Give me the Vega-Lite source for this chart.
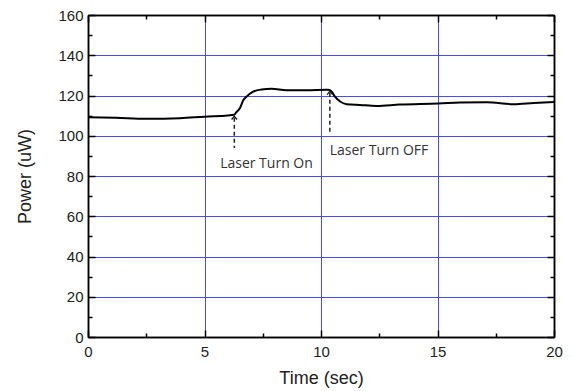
{
  "$schema": "https://vega.github.io/schema/vega-lite/v6.json",
  "width": 466,
  "height": 322,
  "autosize": {"type": "none"},
  "padding": {"left": 88, "top": 15, "right": 19, "bottom": 54},
  "background": "white",
  "config": {
    "view": {"stroke": null},
    "font": "Liberation Sans",
    "axis": {
      "domainColor": "black", "domainWidth": 1.5, "tickColor": "black", "tickWidth": 1.5,
      "labelFont": "Liberation Sans", "labelFontSize": 15, "labelColor": "#222", "labelFlush": false,
      "titleFont": "Liberation Sans", "titleFontSize": 18, "titleFontWeight": "normal", "titleColor": "#222",
      "gridColor": "#4a4aff", "gridWidth": 1
    }
  },
  "datasets": {
    "power": [
      {"t": 0, "p": 109.2}, {"t": 1.2, "p": 108.9}, {"t": 2.5, "p": 108.4}, {"t": 3.95, "p": 108.7},
      {"t": 5.0, "p": 109.5}, {"t": 6.0, "p": 110.1}, {"t": 6.27, "p": 110.4}, {"t": 6.38, "p": 111.9},
      {"t": 6.52, "p": 113.7}, {"t": 6.67, "p": 117.8}, {"t": 6.8, "p": 119.4}, {"t": 7.09, "p": 121.9},
      {"t": 7.45, "p": 123.0}, {"t": 7.88, "p": 123.4}, {"t": 8.52, "p": 122.6}, {"t": 9.38, "p": 122.6},
      {"t": 10.24, "p": 122.8}, {"t": 10.31, "p": 122.8}, {"t": 10.46, "p": 121.9}, {"t": 10.6, "p": 119.4},
      {"t": 10.82, "p": 117.0}, {"t": 11.1, "p": 115.7}, {"t": 11.67, "p": 115.3}, {"t": 12.38, "p": 114.8},
      {"t": 13.38, "p": 115.5}, {"t": 15.03, "p": 116.0}, {"t": 15.97, "p": 116.5}, {"t": 17.12, "p": 116.7},
      {"t": 18.27, "p": 115.7}, {"t": 19.13, "p": 116.3}, {"t": 20, "p": 116.8}
    ],
    "arrows": [
      {"t": 6.28, "top": 109.0, "bottom": 93.9},
      {"t": 10.38, "top": 121.4, "bottom": 101.3}
    ],
    "labels": [
      {"t": 7.66, "y": 86.0, "label": "Laser Turn On"},
      {"t": 12.49, "y": 92.5, "label": "Laser Turn OFF"}
    ]
  },
  "resolve": {"axis": {"x": "independent", "y": "independent"}},
  "layer": [
    {
      "data": {"name": "power"},
      "mark": {"type": "line", "color": "black", "strokeWidth": 2, "interpolate": "monotone"},
      "encoding": {
        "x": {"field": "t", "type": "quantitative", "scale": {"domain": [0, 20], "nice": false},
          "axis": {"orient": "bottom", "values": [0, 5, 10, 15, 20], "title": "Time (sec)", "tickSize": -7, "labelPadding": 14, "titlePadding": 10, "grid": true}},
        "y": {"field": "p", "type": "quantitative", "scale": {"domain": [0, 160], "nice": false},
          "axis": {"orient": "left", "values": [0, 20, 40, 60, 80, 100, 120, 140, 160], "title": "Power (uW)", "tickSize": -7, "labelPadding": 12, "titlePadding": 23, "grid": true}}
      }
    },
    {
      "data": {"name": "arrows"},
      "mark": {"type": "rule", "color": "#222", "strokeWidth": 1.5, "strokeDash": [4, 3]},
      "encoding": {
        "x": {"field": "t", "type": "quantitative", "axis": {"orient": "top", "values": [0, 5, 10, 15, 20], "labels": false, "title": null, "tickSize": -7, "grid": false}},
        "y": {"field": "top", "type": "quantitative", "axis": {"orient": "right", "values": [0, 20, 40, 60, 80, 100, 120, 140, 160], "labels": false, "title": null, "tickSize": -7, "grid": false}},
        "y2": {"field": "bottom"}
      }
    },
    {
      "data": {"name": "arrows"},
      "mark": {"type": "point", "shape": "M-1,0.7L0,-0.5L1,0.7", "filled": false, "stroke": "#222", "strokeWidth": 1.4, "size": 30, "opacity": 1},
      "encoding": {
        "x": {"field": "t", "type": "quantitative", "axis": {"orient": "bottom", "values": [2.5, 7.5, 12.5, 17.5], "labels": false, "title": null, "tickSize": -4, "grid": false}},
        "y": {"field": "top", "type": "quantitative", "axis": {"orient": "left", "values": [10, 30, 50, 70, 90, 110, 130, 150], "labels": false, "title": null, "tickSize": -4, "grid": false}}
      }
    },
    {
      "data": {"name": "labels"},
      "mark": {"type": "text", "font": "Open Sans", "fontSize": 14, "color": "#333", "baseline": "middle", "align": "center"},
      "encoding": {
        "x": {"field": "t", "type": "quantitative", "axis": {"orient": "top", "values": [2.5, 7.5, 12.5, 17.5], "labels": false, "title": null, "tickSize": -4, "grid": false}},
        "y": {"field": "y", "type": "quantitative", "axis": {"orient": "right", "values": [10, 30, 50, 70, 90, 110, 130, 150], "labels": false, "title": null, "tickSize": -4, "grid": false}},
        "text": {"field": "label"}
      }
    }
  ]
}
